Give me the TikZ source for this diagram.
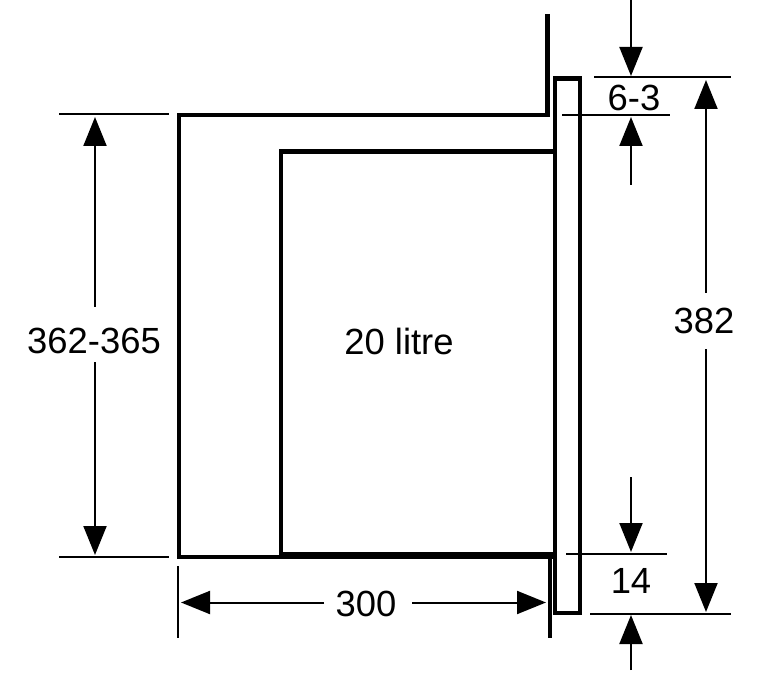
\documentclass[tikz,border=0pt]{standalone}
\usepackage{fontspec}
\setmainfont{Liberation Sans}
\usetikzlibrary{arrows.meta}
\tikzset{
  outline/.style={line width=4.6pt,line cap=butt,line join=miter},
  heavy/.style={line width=7pt},
  wallline/.style={line width=4pt},
  ext/.style={line width=2pt},
  dim/.style={line width=2pt,-{Triangle[length=29pt,width=23pt]}},
  dimtext/.style={font=\fontsize{36.4}{36.4}\selectfont,inner sep=0pt,text=black}
}
\begin{document}
\begin{tikzpicture}[x=1pt,y=-1pt]
\useasboundingbox (0,0) rectangle (777,679);
% named points
\coordinate (wallT) at (547.5,14);
\coordinate (wallC) at (547.5,115);
\coordinate (boxTL) at (179,115);
\coordinate (boxBL) at (179,557);
\coordinate (boxBM) at (281,557);
\coordinate (innerTL) at (281,151.5);
\coordinate (innerTR) at (554,151.5);
\coordinate (innerBL) at (281,555.5);
\coordinate (innerBR) at (555,555.5);
\coordinate (panelA) at (555,78.5);
\coordinate (panelB) at (580,613);
\coordinate (wallB1) at (549.5,555);
\coordinate (wallB2) at (549.5,638);
% body
\draw[outline] (wallT) -- (wallC) -- (boxTL) -- (boxBL) -- (boxBM);
\draw[outline] (innerTR) -- (innerTL) -- (boxBM);
\draw[heavy] (innerBL) -- (innerBR);
\draw[outline] (panelA) rectangle (panelB);
\draw[wallline] (wallB1) -- (wallB2);
% labels
\node[dimtext] (lA) at (94,341) {362-365};
\node[dimtext] (lB) at (399,341) {20 litre};
\node[dimtext] (lC) at (366,604) {300};
\node[dimtext] (lD) at (704,321) {382};
\node[dimtext] (lE) at (634,98) {6-3};
\node[dimtext] (lF) at (631,581) {14};
% extension lines
\coordinate (e1a) at (59,114); \coordinate (e1b) at (169,114);
\coordinate (e2a) at (59,557); \coordinate (e2b) at (169,557);
\coordinate (e3a) at (178,566); \coordinate (e3b) at (178,638);
\coordinate (e4a) at (594,77.5); \coordinate (e4b) at (731,77.5);
\coordinate (e5a) at (562,115); \coordinate (e5b) at (670,115);
\coordinate (e6a) at (566,554); \coordinate (e6b) at (667,554);
\coordinate (e7a) at (590,613.5); \coordinate (e7b) at (731,613.5);
\foreach \i in {1,...,7} \draw[ext] (e\i a) -- (e\i b);
% 362-365
\coordinate (a1) at (95,307); \coordinate (a1t) at (95,117);
\coordinate (a2) at (95,362); \coordinate (a2t) at (95,555);
\draw[dim] (a1) -- (a1t);
\draw[dim] (a2) -- (a2t);
% 300
\coordinate (a3) at (324,602.5); \coordinate (a3t) at (181,602.5);
\coordinate (a4) at (412,602.5); \coordinate (a4t) at (546,602.5);
\draw[dim] (a3) -- (a3t);
\draw[dim] (a4) -- (a4t);
% 382
\coordinate (a5) at (706,293); \coordinate (a5t) at (706,80);
\coordinate (a6) at (706,349); \coordinate (a6t) at (706,612);
\draw[dim] (a5) -- (a5t);
\draw[dim] (a6) -- (a6t);
% 6-3
\coordinate (a7) at (631,0); \coordinate (a7t) at (631,76);
\coordinate (a8) at (631,185); \coordinate (a8t) at (631,117);
\draw[dim] (a7) -- (a7t);
\draw[dim] (a8) -- (a8t);
% 14
\coordinate (a9) at (631,477); \coordinate (a9t) at (631,552);
\coordinate (a10) at (631,670); \coordinate (a10t) at (631,615);
\draw[dim] (a9) -- (a9t);
\draw[dim] (a10) -- (a10t);
\end{tikzpicture}
\end{document}
